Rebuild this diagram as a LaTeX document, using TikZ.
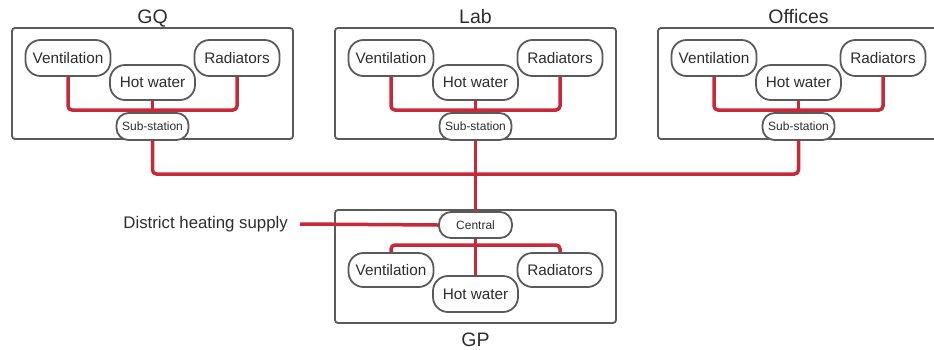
\documentclass[tikz,border=0pt]{standalone}
\usepackage{fontspec}
\setmainfont{Liberation Sans}
\usetikzlibrary{backgrounds}
\definecolor{pipered}{RGB}{200,40,56}
\definecolor{edgegray}{RGB}{90,90,90}
\definecolor{txtgray}{RGB}{45,45,45}
\tikzset{
  building/.style={draw=edgegray, line width=1.8pt, rounded corners=3pt},
  unit/.style={draw=edgegray, line width=1.8pt, fill=white, rounded corners=15pt,
    minimum width=85pt, minimum height=36pt, inner sep=0pt, text=txtgray,
    font=\fontsize{15.3}{18}\selectfont},
  station/.style={draw=edgegray, line width=1.8pt, fill=white, rounded corners=12pt,
    minimum width=72pt, minimum height=27pt, inner sep=0pt, text=txtgray,
    font=\fontsize{12}{14}\selectfont},
  title/.style={anchor=base, text=txtgray, inner sep=0pt, font=\fontsize{19.5}{22}\selectfont},
  pipe/.style={draw=pipered, line width=3.5pt, rounded corners=4pt},
}
\begin{document}
\begin{tikzpicture}[x=1pt, y=-1pt]
\useasboundingbox (0,0) rectangle (934,349);

\node[title] (tgq) at (152.5,23) {GQ};
\node[title] (tlab) at (475.5,23) {Lab};
\node[title] (toff) at (798.5,23) {Offices};
\node[title] (tgp) at (475.5,346) {GP};

% Junction points of the pipework
\foreach \n/\x in {gq/152.5, lab/475.5, of/798.5} {
  \coordinate (\n-j) at (\x,110);
}
\coordinate (bus) at (475.5,174);
\coordinate (gp-j) at (475.5,245);

% Consumer buildings: units and sub-stations
\foreach \n/\x in {gq/152.5, lab/475.5, of/798.5} {
  \node[unit] (\n-vent) at (\x-84.5,58) {Ventilation};
  \node[unit] (\n-rad) at (\x+84.5,58) {Radiators};
  \node[unit, minimum height=35pt] (\n-hw) at (\x,82.5) {Hot water};
  \node[station] (\n-sub) at (\x,126.5) {Sub-station};
}

% Central plant
\node[station, minimum width=73pt, minimum height=26pt] (central) at (475.5,225) {Central};
\node[unit, minimum height=34pt] (gp-vent) at (391,270) {Ventilation};
\node[unit, minimum height=34pt] (gp-rad) at (560,270) {Radiators};
\node[unit, minimum height=36pt] (gp-hw) at (475.5,294) {Hot water};

\node[anchor=base east, inner sep=0pt, text=txtgray, font=\fontsize{16.8}{20}\selectfont]
  (supply) at (288,228) {District heating supply};
\coordinate (supply-end) at (300,224);

\begin{scope}[on background layer]
  % Building outlines
  \draw[building] (12,28) rectangle (293,139);
  \draw[building] (335,28) rectangle (616,139);
  \draw[building] (658,28) rectangle (939,139);
  \draw[building] (335,210) rectangle (616,323);
  % Pipes
  \foreach \n in {gq, lab, of} {
    \draw[pipe] (\n-vent.south) |- (\n-j) -| (\n-rad.south);
    \draw[pipe] (\n-hw.south) -- (\n-j);
  }
  \draw[pipe] (gq-sub.south) |- (bus) -| (of-sub.south);
  \draw[pipe] (lab-sub.south) -- (central.north);
  \draw[pipe] (supply-end) -- (central.west);
  \draw[pipe] (gp-vent.north) |- (gp-j) -| (gp-rad.north);
  \draw[pipe] (central.south) -- (gp-hw.north);
\end{scope}
\end{tikzpicture}
\end{document}
